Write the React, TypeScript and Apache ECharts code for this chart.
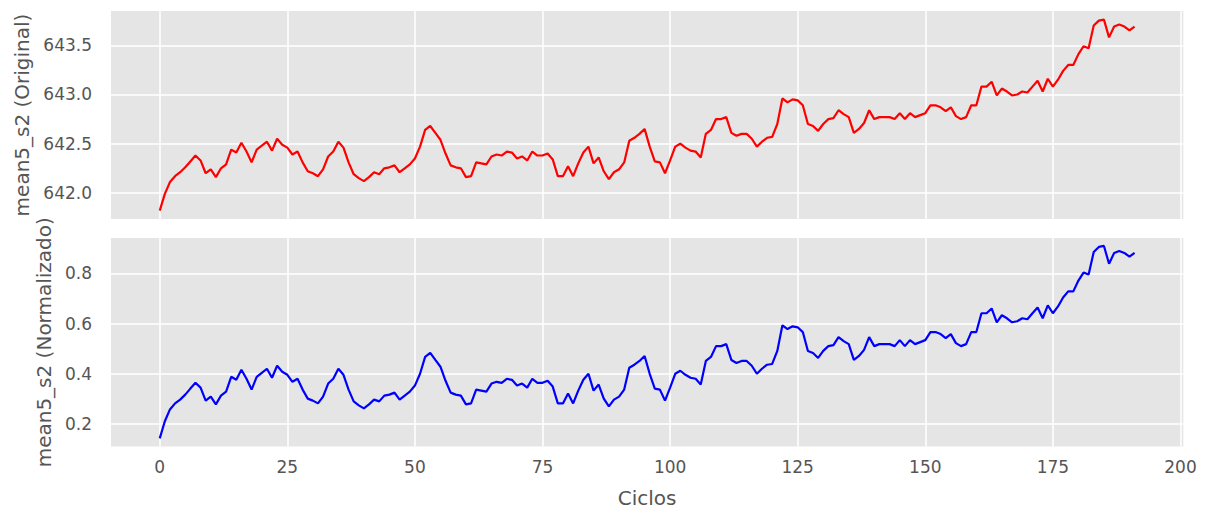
import React, { useEffect, useRef } from "react";
import * as echarts from "echarts";

const original: number[] = [
  641.82, 641.99, 642.11, 642.17, 642.21, 642.26, 642.32, 642.38, 642.33, 642.20,
  642.24, 642.16, 642.25, 642.29, 642.44, 642.41, 642.51, 642.42, 642.31, 642.44,
  642.48, 642.52, 642.43, 642.55, 642.49, 642.46, 642.39, 642.42, 642.31, 642.22,
  642.20, 642.17, 642.24, 642.37, 642.42, 642.52, 642.46, 642.31, 642.19, 642.15,
  642.12, 642.16, 642.21, 642.19, 642.25, 642.26, 642.28, 642.21, 642.25, 642.29,
  642.35, 642.47, 642.64, 642.68, 642.61, 642.54, 642.40, 642.28, 642.26, 642.25,
  642.16, 642.17, 642.31, 642.30, 642.29, 642.37, 642.39, 642.38, 642.42, 642.41,
  642.35, 642.37, 642.33, 642.42, 642.38, 642.38, 642.40, 642.34, 642.17, 642.17,
  642.27, 642.17, 642.30, 642.41, 642.47, 642.30, 642.36, 642.22, 642.14, 642.21,
  642.24, 642.31, 642.53, 642.56, 642.60, 642.65, 642.47, 642.32, 642.31, 642.20,
  642.33, 642.47, 642.50, 642.46, 642.43, 642.42, 642.36, 642.60, 642.64, 642.75,
  642.75, 642.77, 642.61, 642.58, 642.60, 642.60, 642.55, 642.47, 642.52, 642.56,
  642.57, 642.70, 642.96, 642.92, 642.95, 642.94, 642.89, 642.70, 642.68, 642.63,
  642.70, 642.75, 642.76, 642.84, 642.80, 642.77, 642.61, 642.65, 642.71, 642.84,
  642.75, 642.77, 642.77, 642.77, 642.75, 642.81, 642.75, 642.81, 642.77, 642.79,
  642.81, 642.89, 642.89, 642.87, 642.83, 642.87, 642.78, 642.75, 642.77, 642.89,
  642.89, 643.08, 643.08, 643.13, 642.99, 643.06, 643.03, 642.99, 643.00, 643.03,
  643.02, 643.08, 643.14, 643.03, 643.16, 643.08, 643.15, 643.24, 643.30, 643.30,
  643.41, 643.49, 643.47, 643.70, 643.75, 643.76, 643.58, 643.69, 643.71, 643.69,
  643.65, 643.69,
];

const normalizado: number[] = [
  0.143, 0.211, 0.258, 0.282, 0.297, 0.317, 0.341, 0.364, 0.345, 0.293,
  0.309, 0.278, 0.313, 0.329, 0.388, 0.376, 0.416, 0.380, 0.337, 0.388,
  0.404, 0.420, 0.384, 0.432, 0.408, 0.396, 0.368, 0.380, 0.337, 0.301,
  0.293, 0.282, 0.309, 0.361, 0.380, 0.420, 0.396, 0.337, 0.290, 0.274,
  0.262, 0.278, 0.297, 0.290, 0.313, 0.317, 0.325, 0.297, 0.313, 0.329,
  0.353, 0.400, 0.467, 0.483, 0.455, 0.428, 0.372, 0.325, 0.317, 0.313,
  0.278, 0.282, 0.337, 0.333, 0.329, 0.361, 0.368, 0.364, 0.380, 0.376,
  0.353, 0.361, 0.345, 0.380, 0.364, 0.364, 0.372, 0.349, 0.282, 0.282,
  0.321, 0.282, 0.333, 0.376, 0.400, 0.333, 0.357, 0.301, 0.270, 0.297,
  0.309, 0.337, 0.424, 0.436, 0.451, 0.471, 0.400, 0.341, 0.337, 0.293,
  0.345, 0.400, 0.412, 0.396, 0.384, 0.380, 0.357, 0.451, 0.467, 0.510,
  0.510, 0.518, 0.455, 0.443, 0.451, 0.451, 0.432, 0.400, 0.420, 0.436,
  0.439, 0.491, 0.593, 0.578, 0.589, 0.585, 0.566, 0.491, 0.483, 0.463,
  0.491, 0.510, 0.514, 0.546, 0.530, 0.518, 0.455, 0.471, 0.495, 0.546,
  0.510, 0.518, 0.518, 0.518, 0.510, 0.534, 0.510, 0.534, 0.518, 0.526,
  0.534, 0.566, 0.566, 0.558, 0.542, 0.558, 0.522, 0.510, 0.518, 0.566,
  0.566, 0.641, 0.641, 0.660, 0.605, 0.633, 0.621, 0.605, 0.609, 0.621,
  0.617, 0.641, 0.664, 0.621, 0.672, 0.641, 0.668, 0.704, 0.728, 0.728,
  0.771, 0.803, 0.795, 0.885, 0.905, 0.909, 0.838, 0.881, 0.889, 0.881,
  0.866, 0.881,
];

const xTicks: number[] = [0, 25, 50, 75, 100, 125, 150, 175, 200];
const yTicksOriginal: number[] = [642.0, 642.5, 643.0, 643.5];
const yTicksNorm: number[] = [0.2, 0.4, 0.6, 0.8];

const FONT = "DejaVu Sans";
const LABEL_COLOR = "#555555";

export default function App() {
  const ref = useRef<HTMLDivElement>(null);

  useEffect(() => {
    if (!ref.current) return;
    const chart = echarts.init(ref.current, undefined, { renderer: "svg" });

    const splitLine = { show: true, lineStyle: { color: "#ffffff", width: 1.5 } };
    const baseX = {
      type: "value" as const,
      min: -9.55,
      max: 200.55,
      axisLine: { show: false },
      axisTick: { show: false, customValues: xTicks },
      splitLine,
    };

    const option: any = {
      animation: false,
      backgroundColor: "#ffffff",
      grid: [
        { left: 111, right: 26.7, top: 11, height: 208, show: true, backgroundColor: "#E5E5E5", borderWidth: 0 },
        { left: 111, right: 26.7, top: 238, height: 208.5, show: true, backgroundColor: "#E5E5E5", borderWidth: 0 },
      ],
      xAxis: [
        { ...baseX, gridIndex: 0, axisLabel: { show: false, customValues: xTicks } },
        {
          ...baseX,
          gridIndex: 1,
          axisLabel: {
            show: true,
            customValues: xTicks,
            color: LABEL_COLOR,
            fontFamily: FONT,
            fontSize: 17,
            margin: 12,
            formatter: (v: number) => String(v),
          },
          name: "Ciclos",
          nameLocation: "middle",
          nameGap: 41,
          nameTextStyle: { color: LABEL_COLOR, fontFamily: FONT, fontSize: 20 },
        },
      ],
      yAxis: [
        {
          gridIndex: 0,
          type: "value",
          min: 641.735,
          max: 643.848,
          axisLine: { show: false },
          axisTick: { show: false, customValues: yTicksOriginal },
          axisLabel: {
            customValues: yTicksOriginal,
            color: LABEL_COLOR,
            fontFamily: FONT,
            fontSize: 17,
            margin: 19,
            formatter: (v: number) => v.toFixed(1),
          },
          splitLine,
          name: "mean5_s2 (Original)",
          nameLocation: "middle",
          nameRotate: 90,
          nameGap: 79,
          nameTextStyle: { color: LABEL_COLOR, fontFamily: FONT, fontSize: 20 },
        },
        {
          gridIndex: 1,
          type: "value",
          min: 0.1104,
          max: 0.9406,
          axisLine: { show: false },
          axisTick: { show: false, customValues: yTicksNorm },
          axisLabel: {
            customValues: yTicksNorm,
            color: LABEL_COLOR,
            fontFamily: FONT,
            fontSize: 17,
            margin: 19,
            formatter: (v: number) => v.toFixed(1),
          },
          splitLine,
          name: "mean5_s2 (Normalizado)",
          nameLocation: "middle",
          nameRotate: 90,
          nameGap: 56,
          nameTextStyle: { color: LABEL_COLOR, fontFamily: FONT, fontSize: 20 },
        },
      ],
      series: [
        {
          type: "line",
          xAxisIndex: 0,
          yAxisIndex: 0,
          data: original.map((v, i) => [i, v]),
          showSymbol: false,
          lineStyle: { color: "#FF0000", width: 2.2 },
          itemStyle: { color: "#FF0000" },
        },
        {
          type: "line",
          xAxisIndex: 1,
          yAxisIndex: 1,
          data: normalizado.map((v, i) => [i, v]),
          showSymbol: false,
          lineStyle: { color: "#0000FF", width: 2.2 },
          itemStyle: { color: "#0000FF" },
        },
      ],
    };

    chart.setOption(option);
    return () => chart.dispose();
  }, []);

  return (
    <div
      ref={ref}
      style={{ position: "fixed", left: 0, top: 0, width: 1210, height: 512, background: "#ffffff" }}
    />
  );
}
